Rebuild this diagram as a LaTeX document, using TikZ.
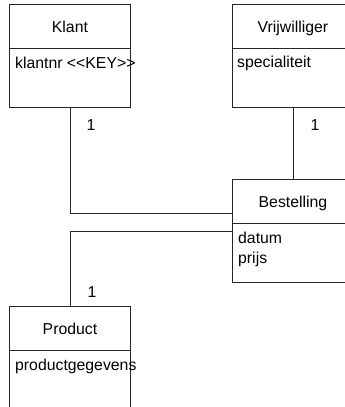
\documentclass[tikz,border=0pt]{standalone}
\usepackage{fontspec}
\newfontfamily\umlfont{Liberation Sans}
\begin{document}
\begin{tikzpicture}[x=1pt,y=-1pt,
  cls/.style={draw=black!85, line width=0.9pt, minimum width=121pt, minimum height=103pt, anchor=north west, inner sep=0pt},
  txt/.style={font=\umlfont\fontsize{15.8}{18}\selectfont, inner sep=0pt, anchor=base},
  attr/.style={txt, anchor=base west},
  conn/.style={draw=black!85, line width=0.9pt},
  divider/.style={draw=black!85, line width=0.9pt}]
\useasboundingbox (0,0) rectangle (345,407);
\clip (0,0) rectangle (345,407);
% classes
\node[cls] (klant) at (9,4) {};
\node[cls] (vrij) at (232,4) {};
\node[cls] (best) at (232,179) {};
\node[cls] (prod) at (9,306) {};
% titles
\node[txt] (klantT) at ([yshift=-28pt]klant.north) {Klant};
\node[txt] (vrijT) at ([yshift=-28pt]vrij.north) {Vrijwilliger};
\node[txt] (bestT) at ([yshift=-28pt]best.north) {Bestelling};
\node[txt] (prodT) at ([yshift=-28pt]prod.north) {Product};
% dividers
\foreach \c in {klant,vrij,best,prod}
  \draw[divider] ([yshift=-44pt]\c.north west) -- ([yshift=-44pt]\c.north east);
% attributes
\node[attr] (klantA) at ([xshift=6pt,yshift=-64pt]klant.north west) {klantnr <<KEY>>};
\node[attr] (vrijA) at ([xshift=5pt,yshift=-63pt]vrij.north west) {specialiteit};
\node[attr] (bestA1) at ([xshift=6pt,yshift=-64pt]best.north west) {datum};
\node[attr] (bestA2) at ([xshift=6pt,yshift=-84pt]best.north west) {prijs};
\node[attr] (prodA) at ([xshift=6pt,yshift=-64pt]prod.north west) {productgegevens};
% connectors
\coordinate (b1) at ([yshift=-34pt]best.north west);
\coordinate (b2) at ([yshift=-52pt]best.north west);
\coordinate (vb) at (best.north -| vrij.south);
\draw[conn] (klant.south) |- (b1);
\draw[conn] (prod.north) |- (b2);
\draw[conn] (vrij.south) -- (vb);
% multiplicities
\node[txt] (m1) at (91,130) {1};
\node[txt] (m2) at (315,130) {1};
\node[txt] (m3) at (92,297) {1};
\end{tikzpicture}
\end{document}
